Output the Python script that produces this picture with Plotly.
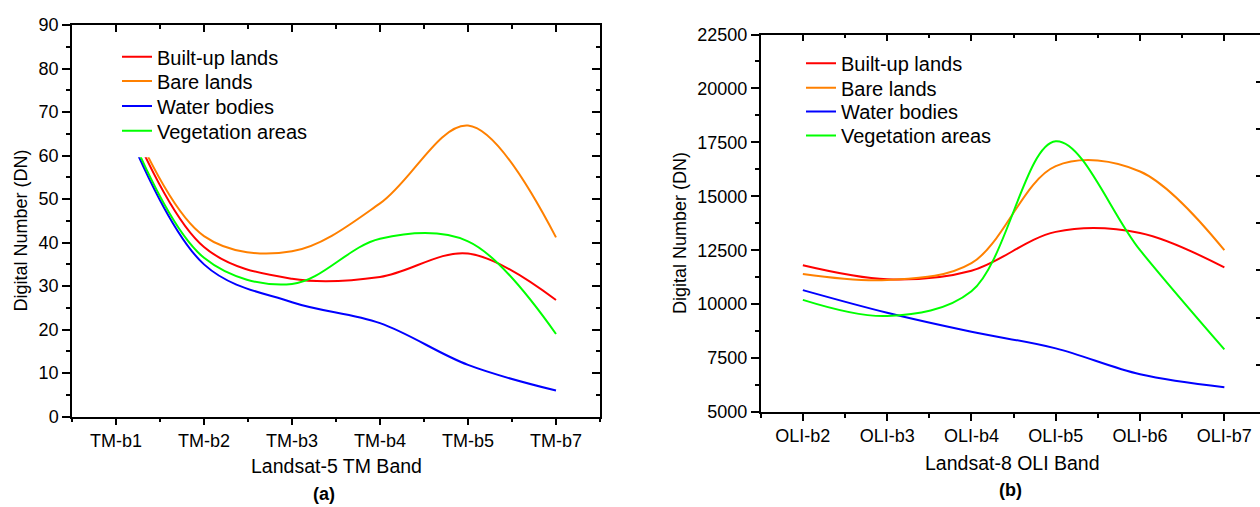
import plotly.graph_objects as go

# ---------------- data ----------------
tm_bands = ["TM-b1", "TM-b2", "TM-b3", "TM-b4", "TM-b5", "TM-b7"]
tm_builtup = [75, 39, 31.7, 32.1, 37.5, 26.8]
tm_bare = [76, 41.5, 38.0, 49.0, 66.9, 41.2]
tm_water = [72, 35, 26.3, 21.5, 11.9, 6.0]
tm_veg = [73, 36.5, 30.5, 40.9, 40.3, 19.0]

oli_bands = ["OLI-b2", "OLI-b3", "OLI-b4", "OLI-b5", "OLI-b6", "OLI-b7"]
oli_builtup = [11800, 11150, 11550, 13350, 13300, 11700]
oli_bare = [11400, 11120, 11900, 16400, 16150, 12500]
oli_water = [10650, 9600, 8720, 7950, 6750, 6150]
oli_veg = [10200, 9450, 10600, 17550, 12500, 7900]

series_names = ["Built-up lands", "Bare lands", "Water bodies", "Vegetation areas"]
colors = ["#FF0000", "#FF8000", "#0000FF", "#00FF00"]

W, H = 1260, 507
FONT = "Arial, Liberation Sans, sans-serif"

def px(v, total):
    return v / total

fig = go.Figure()

tm_idx = list(range(len(tm_bands)))
oli_idx = list(range(len(oli_bands)))

# one legend per row so the rows can sit as tightly as in the original
left_rows_y = [56.7, 81, 106, 130.7]
right_rows_y = [63.3, 87.7, 111.5, 135.5]
left_legend_x = 117
right_legend_x = 801

legends = {}
legend_font = dict(family=FONT, size=20, color="black")
for i, (name, col, vals) in enumerate(zip(series_names, colors, [tm_builtup, tm_bare, tm_water, tm_veg])):
    lg = "legend" if i == 0 else f"legend{i + 1}"
    legends[lg] = dict(x=px(left_legend_x, W), y=1 - px(left_rows_y[i], H), xanchor="left", yanchor="middle",
                       bgcolor="rgba(0,0,0,0)", font=legend_font, itemwidth=30)
    fig.add_trace(go.Scatter(x=tm_idx, y=vals, mode="lines", name=name,
                             line=dict(color=col, width=2, shape="spline", smoothing=1.0),
                             xaxis="x", yaxis="y", legend=lg))
for i, (name, col, vals) in enumerate(zip(series_names, colors, [oli_builtup, oli_bare, oli_water, oli_veg])):
    lg = f"legend{i + 5}"
    legends[lg] = dict(x=px(right_legend_x, W), y=1 - px(right_rows_y[i], H), xanchor="left", yanchor="middle",
                       bgcolor="rgba(0,0,0,0)", font=legend_font, itemwidth=30)
    fig.add_trace(go.Scatter(x=oli_idx, y=vals, mode="lines", name=name,
                             line=dict(color=col, width=2, shape="spline", smoothing=1.0),
                             xaxis="x2", yaxis="y2", legend=lg))

# empty traces so that the mirrored (top/right) frame axes get drawn
fig.add_trace(go.Scatter(x=[], y=[], xaxis="x3", yaxis="y3", showlegend=False, hoverinfo="skip"))
fig.add_trace(go.Scatter(x=[], y=[], xaxis="x4", yaxis="y4", showlegend=False, hoverinfo="skip"))

# domains in pixels
L_x0, L_x1 = 72, 600
L_ytop, L_ybot = 25, 416.7
R_x0, R_x1 = 760.7, 1260
R_ytop, R_ybot = 34.5, 412

ldx = [px(L_x0, W), px(L_x1, W)]
ldy = [1 - px(L_ybot, H), 1 - px(L_ytop, H)]
rdx = [px(R_x0, W), 1.0]
rdy = [1 - px(R_ybot, H), 1 - px(R_ytop, H)]

r_unit = 84.3
r_range_end = -0.5 + (R_x1 - R_x0) / r_unit

half_ticks_tm = [i + 0.5 for i in range(-1, len(tm_bands))]
half_ticks_oli = [i + 0.5 for i in range(-1, len(oli_bands))]

tickfont = dict(family=FONT, size=18, color="black")
common_line = dict(showline=True, linecolor="black", linewidth=1.5, showgrid=False, zeroline=False,
                   tickcolor="black", tickwidth=1.5)

layout_axes = dict(
    xaxis=dict(domain=ldx, anchor="y", range=[-0.5, 5.5], tickmode="array", tickvals=tm_idx,
               ticktext=tm_bands, ticks="outside", ticklen=7, tickfont=tickfont,
               minor=dict(tickvals=half_ticks_tm, ticks="outside", ticklen=4, tickcolor="black", tickwidth=1.5),
               **common_line),
    yaxis=dict(domain=ldy, anchor="x", range=[0, 90], dtick=10, ticks="outside", ticklen=8,
               tickfont=tickfont, minor=dict(dtick=5, ticks="outside", ticklen=4, tickcolor="black", tickwidth=1.5),
               **common_line),
    xaxis3=dict(domain=ldx, anchor="y3", overlaying="x", side="top", range=[-0.5, 5.5], tickmode="array",
                tickvals=tm_idx, showticklabels=False, ticks="inside", ticklen=7,
                minor=dict(tickvals=half_ticks_tm, ticks="inside", ticklen=4, tickcolor="black", tickwidth=1.5),
                **common_line),
    yaxis3=dict(domain=ldy, anchor="x3", overlaying="y", side="right", range=[0, 90], dtick=10,
                showticklabels=False, ticks="inside", ticklen=8,
                minor=dict(dtick=5, ticks="inside", ticklen=4, tickcolor="black", tickwidth=1.5),
                **common_line),
    xaxis2=dict(domain=rdx, anchor="y2", range=[-0.5, r_range_end], tickmode="array", tickvals=oli_idx,
                ticktext=oli_bands, ticks="outside", ticklen=7, tickfont=tickfont,
                minor=dict(tickvals=half_ticks_oli, ticks="outside", ticklen=4, tickcolor="black", tickwidth=1.5),
                **common_line),
    yaxis2=dict(domain=rdy, anchor="x2", range=[5000, 22500], dtick=2500, tickformat="d", ticks="outside",
                ticklen=8, tickfont=tickfont,
                minor=dict(dtick=1250, ticks="outside", ticklen=4, tickcolor="black", tickwidth=1.5),
                **common_line),
    xaxis4=dict(domain=rdx, anchor="y4", overlaying="x2", side="top", range=[-0.5, r_range_end],
                tickmode="array", tickvals=oli_idx, showticklabels=False, ticks="inside", ticklen=7,
                minor=dict(tickvals=half_ticks_oli, ticks="inside", ticklen=4, tickcolor="black", tickwidth=1.5),
                **common_line),
    yaxis4=dict(domain=rdy, anchor="x4", overlaying="y2", side="right", range=[0, 8], dtick=1,
                showticklabels=False, ticks="inside", ticklen=4, showline=False, showgrid=False,
                zeroline=False, tickcolor="black", tickwidth=1.5),
)

fig.update_layout(
    width=W, height=H,
    margin=dict(l=0, r=0, t=0, b=0, pad=0, autoexpand=False),
    paper_bgcolor="white", plot_bgcolor="white",
    font=dict(family=FONT, color="black"),
    showlegend=True,
    **legends,
    **layout_axes,
)

# white legend frame covering the curves' upper part (as in the original)
fig.add_shape(type="rect", xref="x", yref="y", x0=-0.47, x1=2.4, y0=59.6, y1=88.3,
              fillcolor="white", line=dict(width=0), layer="above")

ann_font = dict(family=FONT, size=19.5, color="black")
ytitle_font = dict(family=FONT, size=18, color="black")
annotations = [
    dict(text="Landsat-5 TM Band", x=px(336, W), y=1 - px(466, H), font=ann_font),
    dict(text="<b>(a)</b>", x=px(324, W), y=1 - px(494, H), font=dict(family=FONT, size=18, color="black")),
    dict(text="Landsat-8 OLI Band", x=px(1012, W), y=1 - px(463, H), font=ann_font),
    dict(text="<b>(b)</b>", x=px(1010, W), y=1 - px(490, H), font=dict(family=FONT, size=18, color="black")),
    dict(text="Digital Number (DN)", x=px(20.5, W), y=1 - px(231, H), textangle=-90, font=ytitle_font),
    dict(text="Digital Number (DN)", x=px(680, W), y=1 - px(233, H), textangle=-90, font=ytitle_font),
]
for a in annotations:
    fig.add_annotation(xref="paper", yref="paper", showarrow=False, xanchor="center", yanchor="middle", **a)

fig.write_html("out.html", config={"displayModeBar": False},
               post_script="document.body.style.margin='0px';document.body.style.overflow='hidden';")
